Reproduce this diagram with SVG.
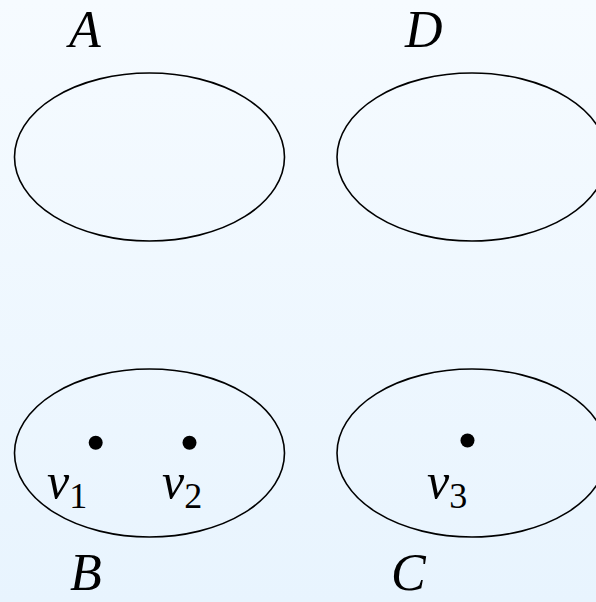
<svg xmlns="http://www.w3.org/2000/svg" width="596" height="602" viewBox="0 0 596 602">
<defs>
<linearGradient id="bg" x1="0" y1="0" x2="0" y2="1">
<stop offset="0" stop-color="#f6fbff"/>
<stop offset="1" stop-color="#e8f4fe"/>
</linearGradient>
<style>
.set{fill:none;stroke:#000;stroke-width:1.6}
.dot{fill:#000}
.lbl{font-family:"Liberation Serif","Times New Roman",serif;font-style:italic;font-size:52px;fill:#000}
.v{font-family:"Liberation Serif","Times New Roman",serif;font-style:italic;font-size:50px;fill:#000}
.sub{font-family:"Liberation Serif","Times New Roman",serif;font-style:normal;font-size:36px;fill:#000}
</style>
</defs>
<rect width="596" height="602" fill="url(#bg)"/>
<g id="A">
<ellipse class="set" cx="149.5" cy="157" rx="135" ry="84"/>
<text class="lbl" x="69" y="47">A</text>
</g>
<g id="D">
<ellipse class="set" cx="472" cy="157" rx="135" ry="84"/>
<text class="lbl" x="405" y="47">D</text>
</g>
<g id="B">
<ellipse class="set" cx="149.5" cy="453" rx="135" ry="84"/>
<text class="lbl" x="70" y="590">B</text>
</g>
<g id="C">
<ellipse class="set" cx="472" cy="453" rx="135" ry="84"/>
<text class="lbl" x="391" y="590">C</text>
</g>
<g id="v1">
<circle class="dot" cx="95.7" cy="442.7" r="7"/>
<text x="47" y="498"><tspan class="v">v</tspan><tspan class="sub" dy="10">1</tspan></text>
</g>
<g id="v2">
<circle class="dot" cx="189.5" cy="442.7" r="7"/>
<text x="162" y="498"><tspan class="v">v</tspan><tspan class="sub" dy="10">2</tspan></text>
</g>
<g id="v3">
<circle class="dot" cx="467.5" cy="440.5" r="7"/>
<text x="427" y="498"><tspan class="v">v</tspan><tspan class="sub" dy="10">3</tspan></text>
</g>
<g id="connectors"/>
</svg>
